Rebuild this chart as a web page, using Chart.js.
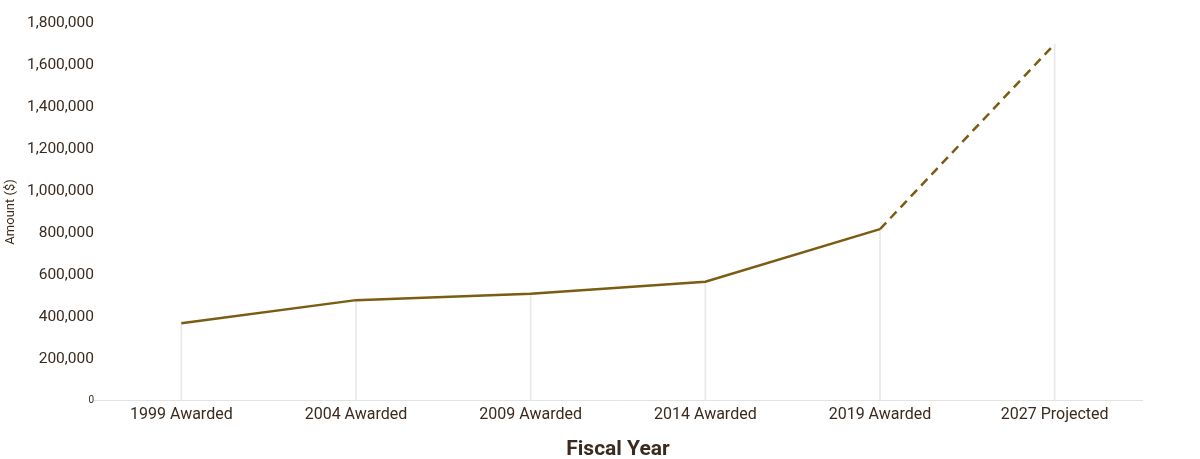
<!DOCTYPE html>
<html>
<head>
<meta charset="utf-8">
<script src="https://cdn.jsdelivr.net/npm/chart.js@4"></script>
<style>
  html, body { margin: 0; padding: 0; background: #fff; }
  #wrap { width: 1200px; height: 459px; position: relative; }
</style>
</head>
<body>
<div id="wrap"><canvas id="myChart"></canvas></div>
<script>
// Дані графіка
var categories = ['1999 Awarded', '2004 Awarded', '2009 Awarded', '2014 Awarded', '2019 Awarded', '2027 Projected'];
var amounts = [370000, 480000, 510000, 568000, 818000, 1700000];
var yTicks = [0, 200000, 400000, 600000, 800000, 1000000, 1200000, 1400000, 1600000, 1800000];

var textColor = '#3b2a1e';
var lineColor = '#7a5c12';
var fontFamily = "'Roboto', 'Liberation Sans', sans-serif";

const chartData = {
    labels: categories,
    datasets: [{
        // лінія
        type: 'line',
        data: amounts,
        borderColor: lineColor,
        borderWidth: 2.5,
        pointRadius: 0,
        tension: 0,
        order: 1,
        segment: {
            borderDash: ctx => ctx.p1DataIndex === amounts.length - 1 ? [9, 6] : undefined
        }
    }, {
        // вертикальні лінії до точок
        type: 'bar',
        data: amounts,
        backgroundColor: '#e8e8e8',
        barThickness: 1,
        order: 2
    }]
};

const config = {
    type: 'bar',
    data: chartData,
    options: {
        responsive: true,
        maintainAspectRatio: false,
        animation: false,
        layout: { padding: { top: 23, right: 58, bottom: 0, left: 0 } },
        plugins: { legend: { display: false }, tooltip: { enabled: false } },
        scales: {
            x: {
                grid: { display: false },
                border: { color: '#e2e2e2', width: 1 },
                ticks: { color: textColor, font: { family: fontFamily, size: 16 }, padding: -4 },
                title: {
                    display: true, text: 'Fiscal Year', color: textColor,
                    font: { family: fontFamily, size: 21, weight: 'bold', lineHeight: 0.9 }, padding: { top: 20, bottom: 0 }
                }
            },
            y: {
                min: 0,
                max: yTicks[yTicks.length - 1],
                afterBuildTicks: axis => { axis.ticks = yTicks.map(v => ({ value: v })); },
                afterFit: axis => { axis.width = 94; },
                grid: { display: false },
                border: { display: false },
                ticks: {
                    color: textColor,
                    padding: -8,
                    font: ctx => ({ family: fontFamily, size: ctx.tick && ctx.tick.value === 0 ? 10 : 15.5 }),
                    callback: v => v.toLocaleString('en-US')
                },
                title: {
                    display: true, text: 'Amount ($)', color: textColor,
                    font: { family: fontFamily, size: 13 }, padding: { top: 3, bottom: 0 }
                }
            }
        }
    }
};

const ctx = document.getElementById('myChart').getContext('2d');
const myChart = new Chart(ctx, config);
</script>
</body>
</html>
